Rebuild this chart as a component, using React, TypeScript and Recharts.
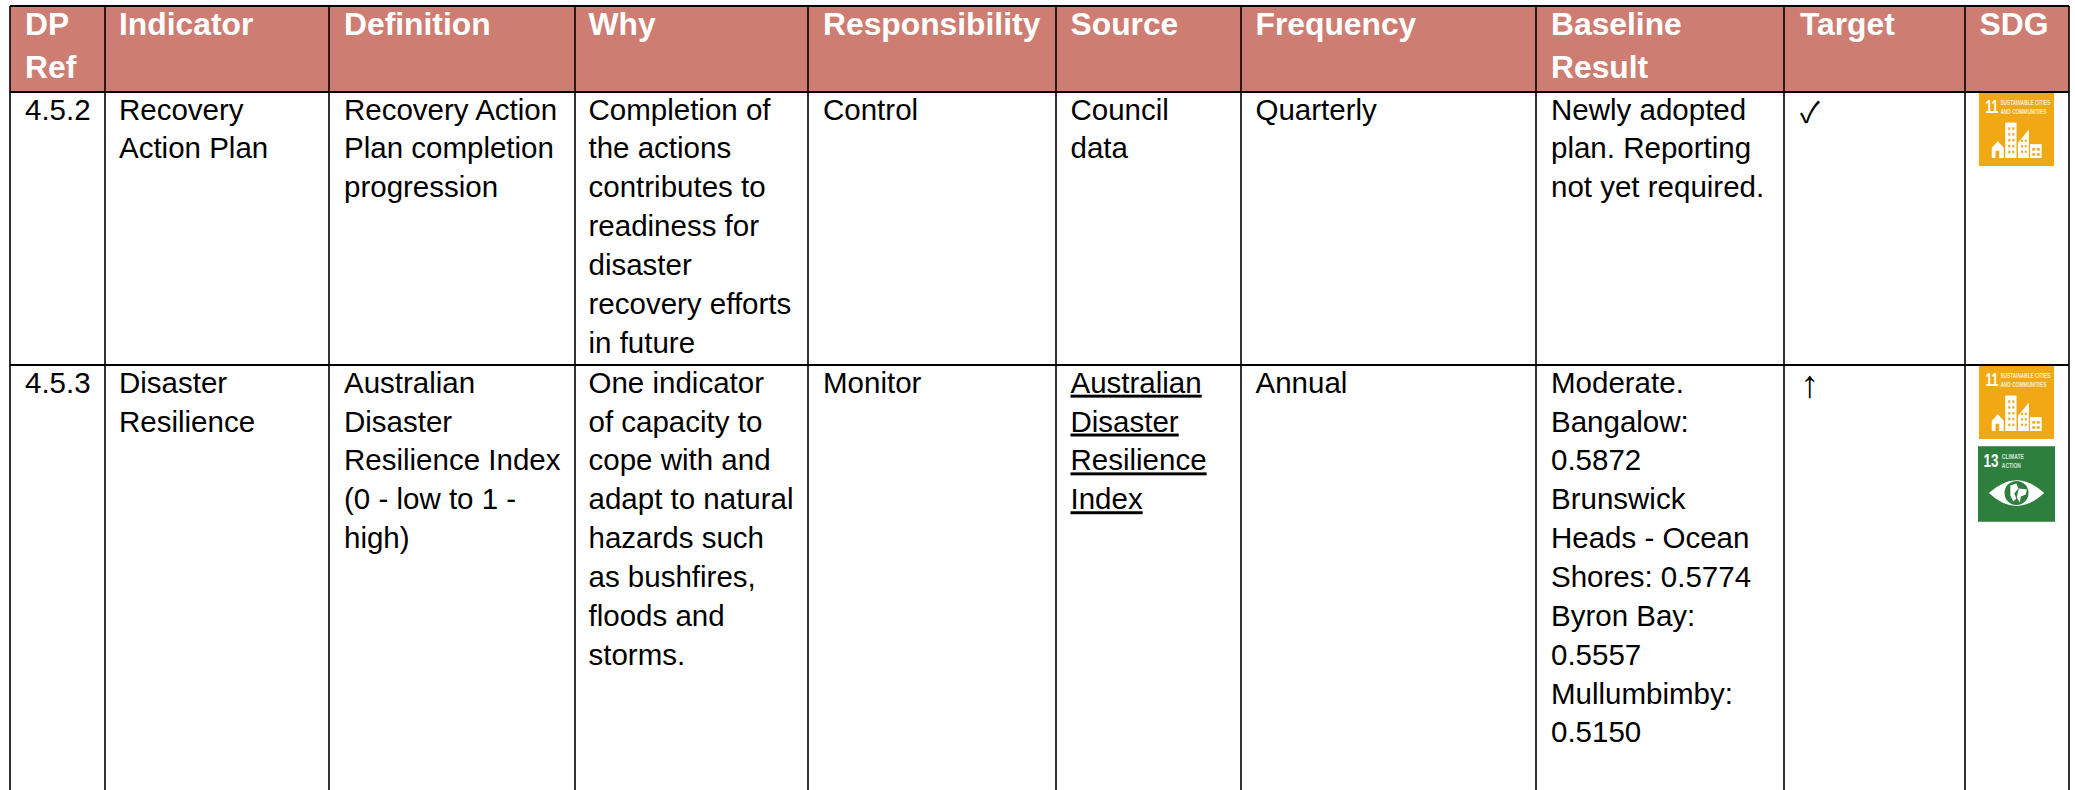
import React from "react";
import { ScatterChart, Scatter, XAxis, YAxis, ReferenceArea, ReferenceLine } from "recharts";

const headers: string[][] = [["DP", "Ref"], ["Indicator"], ["Definition"], ["Why"], ["Responsibility"], ["Source"], ["Frequency"], ["Baseline", "Result"], ["Target"], ["SDG"]];

const rowOne: string[][] = [
  ["4.5.2"],
  ["Recovery", "Action Plan"],
  ["Recovery Action", "Plan completion", "progression"],
  ["Completion of", "the actions", "contributes to", "readiness for", "disaster", "recovery efforts", "in future"],
  ["Control"],
  ["Council", "data"],
  ["Quarterly"],
  ["Newly adopted", "plan. Reporting", "not yet required."],
  ["✓"],
];

const rowTwo: string[][] = [
  ["4.5.3"],
  ["Disaster", "Resilience"],
  ["Australian", "Disaster", "Resilience Index", "(0 - low to 1 -", "high)"],
  ["One indicator", "of capacity to", "cope with and", "adapt to natural", "hazards such", "as bushfires,", "floods and", "storms."],
  ["Monitor"],
  ["Australian", "Disaster", "Resilience", "Index"],
  ["Annual"],
  ["Moderate.", "Bangalow:", "0.5872", "Brunswick", "Heads - Ocean", "Shores: 0.5774", "Byron Bay:", "0.5557", "Mullumbimby:", "0.5150"],
  ["↑"],
];

const underlinedColumnInRowTwo = 5;
const targetColumn = 8;
const sdgRowOne = ["11"];
const sdgRowTwo = ["11", "13"];

const W = 2075;
const H = 790;
const columnEdges = [10, 105, 329, 575, 808, 1056, 1241, 1536, 1784, 1965, 2069];
const textX = [25, 119, 344, 588.5, 823, 1070.5, 1255.5, 1551, 1800, 1979.5];
const tableTop = 7;
const headerBottom = 92;
const rowOneBottom = 365;
const headerBaseline = 35;
const headerPitch = 43;
const rowOneBaseline = 119.5;
const rowTwoBaseline = 392.7;
const pitch = 38.85;

type Pt = { x: number; y: number; text: string; kind: string };

const cellPoints: Pt[] = [];
headers.forEach((lines, c) =>
  lines.forEach((text, i) =>
    cellPoints.push({ x: textX[c], y: headerBaseline + i * headerPitch, text, kind: "head" })
  )
);
rowOne.forEach((lines, c) =>
  lines.forEach((text, i) =>
    cellPoints.push({ x: textX[c], y: rowOneBaseline + i * pitch, text, kind: c === targetColumn ? "mark" : "body" })
  )
);
rowTwo.forEach((lines, c) =>
  lines.forEach((text, i) =>
    cellPoints.push({
      x: textX[c],
      y: rowTwoBaseline + i * pitch,
      text,
      kind: c === targetColumn ? "mark" : c === underlinedColumnInRowTwo ? "link" : "body",
    })
  )
);

const iconX = 2016.5;
const iconPoints = [
  { x: iconX, y: 129.5, goal: sdgRowOne[0] },
  { x: iconX, y: 402.5, goal: sdgRowTwo[0] },
  { x: iconX, y: 484, goal: sdgRowTwo[1] },
];

const FONT = "'Liberation Sans', Arial, sans-serif";

const CellText = (p: any) => {
  const d: Pt = p.payload;
  if (d.kind === "mark") {
    const check = d.text === "✓";
    return (
      <text
        x={p.cx}
        y={p.cy + (check ? 3 : 4)}
        fontFamily={check ? "'Noto Sans CJK JP'" : FONT}
        fontSize={check ? 29 : 38}
        fill="#000"
      >
        {d.text}
      </text>
    );
  }
  const head = d.kind === "head";
  return (
    <text
      x={p.cx}
      y={p.cy}
      fontFamily={FONT}
      fontSize={head ? 31.8 : 29.5}
      fontWeight={head ? 700 : 400}
      fill={head ? "#fff" : "#000"}
      textDecoration={d.kind === "link" ? "underline" : undefined}
    >
      {d.text}
    </text>
  );
};

const Icon11 = ({ cx, cy }: { cx: number; cy: number }) => {
  const w = 75;
  const h = 73;
  const x0 = cx - w / 2;
  const y0 = cy - h / 2;
  const X = (f: number) => x0 + f * w;
  const Y = (f: number) => y0 + f * h;
  const O = "#F0A815";
  const windows: React.ReactNode[] = [];
  [0, 1, 2, 3, 4].forEach((r) =>
    [0, 1].forEach((c) =>
      windows.push(
        <rect key={`a${r}${c}`} x={X(0.39 + c * 0.055)} y={Y(0.47 + r * 0.08)} width={2} height={2.5} fill={O} />
      )
    )
  );
  [0, 1, 2].forEach((r) =>
    [0, 1].forEach((c) =>
      windows.push(
        <rect key={`b${r}${c}`} x={X(0.56 + c * 0.05)} y={Y(0.64 + r * 0.075)} width={2} height={2.2} fill={O} />
      )
    )
  );
  [0, 1].forEach((r) =>
    [0, 1].forEach((c) =>
      windows.push(
        <rect key={`c${r}${c}`} x={X(0.71 + c * 0.06)} y={Y(0.755 + r * 0.07)} width={3} height={2.5} fill={O} />
      )
    )
  );
  return (
    <g>
      <rect x={x0} y={y0} width={w} height={h} fill={O} />
      <text x={X(0.085)} y={Y(0.275)} fontFamily={FONT} fontWeight={700} fontSize={19} fill="#fff" textLength={13} lengthAdjust="spacingAndGlyphs">
        {"11"}
      </text>
      <text x={X(0.285)} y={Y(0.165)} fontFamily={FONT} fontWeight={700} fontSize={7} fill="#fff" textLength={50} lengthAdjust="spacingAndGlyphs" opacity={0.8}>
        SUSTAINABLE CITIES
      </text>
      <text x={X(0.285)} y={Y(0.285)} fontFamily={FONT} fontWeight={700} fontSize={7} fill="#fff" textLength={46} lengthAdjust="spacingAndGlyphs" opacity={0.8}>
        AND COMMUNITIES
      </text>
      <path d={`M${X(0.17)} ${Y(0.89)} V${Y(0.75)} L${X(0.25)} ${Y(0.66)} L${X(0.33)} ${Y(0.75)} V${Y(0.89)} H${X(0.27)} V${Y(0.79)} H${X(0.22)} V${Y(0.89)} Z`} fill="#fff" />
      <rect x={X(0.35)} y={Y(0.405)} width={0.15 * w} height={0.485 * h} fill="#fff" />
      <path d={`M${X(0.52)} ${Y(0.89)} V${Y(0.68)} L${X(0.665)} ${Y(0.5)} V${Y(0.89)} Z`} fill="#fff" />
      <rect x={X(0.68)} y={Y(0.7)} width={0.155 * w} height={0.19 * h} fill="#fff" />
      {windows}
    </g>
  );
};

const Icon13 = ({ cx, cy }: { cx: number; cy: number }) => {
  const w = 77;
  const h = 75.5;
  const x0 = cx - w / 2;
  const y0 = cy - h / 2;
  const X = (f: number) => x0 + f * w;
  const Y = (f: number) => y0 + f * h;
  const G = "#2E7E3E";
  return (
    <g>
      <rect x={x0} y={y0} width={w} height={h} fill={G} />
      <text x={X(0.07)} y={Y(0.28)} fontFamily={FONT} fontWeight={700} fontSize={19} fill="#fff" textLength={15} lengthAdjust="spacingAndGlyphs">
        {"13"}
      </text>
      <text x={X(0.31)} y={Y(0.165)} fontFamily={FONT} fontWeight={700} fontSize={7} fill="#fff" textLength={22} lengthAdjust="spacingAndGlyphs" opacity={0.8}>
        CLIMATE
      </text>
      <text x={X(0.31)} y={Y(0.285)} fontFamily={FONT} fontWeight={700} fontSize={7} fill="#fff" textLength={19} lengthAdjust="spacingAndGlyphs" opacity={0.8}>
        ACTION
      </text>
      <path d={`M${X(0.14)} ${Y(0.62)} Q${X(0.5)} ${Y(0.28)} ${X(0.86)} ${Y(0.62)} Q${X(0.5)} ${Y(0.96)} ${X(0.14)} ${Y(0.62)} Z`} fill="#fff" />
      <circle cx={X(0.5)} cy={Y(0.62)} r={12} fill={G} />
      <path d={`M${X(0.42)} ${Y(0.52)} l6 -2 l2 5 l-4 5 l2 5 l-3 3 l-3 -6 Z`} fill="#fff" />
      <path d={`M${X(0.53)} ${Y(0.56)} l8 1 l-1 5 l-5 2 l-1 6 l-3 -5 Z`} fill="#fff" />
    </g>
  );
};

const SdgIcon = (p: any) =>
  p.payload.goal === "13" ? <Icon13 cx={p.cx} cy={p.cy} /> : <Icon11 cx={p.cx} cy={p.cy} />;

const BLACK = "#000";

export default function App() {
  return (
    <div style={{ position: "absolute", left: 0, top: 0, width: W, height: H, background: "#fff", overflow: "hidden" }}>
      <ScatterChart width={W} height={H} margin={{ top: 0, right: 0, bottom: 0, left: 0 }}>
        <XAxis type="number" dataKey="x" domain={[0, W]} hide allowDataOverflow />
        <YAxis type="number" dataKey="y" domain={[0, H]} reversed hide allowDataOverflow />
        <ReferenceArea x1={columnEdges[0]} x2={columnEdges[columnEdges.length - 1]} y1={tableTop} y2={headerBottom} fill="#CD7D72" fillOpacity={1} stroke="none" />
        <Scatter data={iconPoints} shape={SdgIcon} isAnimationActive={false} />
        <Scatter data={cellPoints} shape={CellText} isAnimationActive={false} />
        {columnEdges.map((x) => (
          <ReferenceLine key={x} segment={[{ x, y: tableTop - 1 }, { x, y: H }]} stroke={BLACK} strokeWidth={1.6} />
        ))}
        {[tableTop - 1, headerBottom, rowOneBottom].map((y) => (
          <ReferenceLine key={y} segment={[{ x: columnEdges[0], y }, { x: columnEdges[columnEdges.length - 1], y }]} stroke={BLACK} strokeWidth={2} />
        ))}
      </ScatterChart>
    </div>
  );
}
